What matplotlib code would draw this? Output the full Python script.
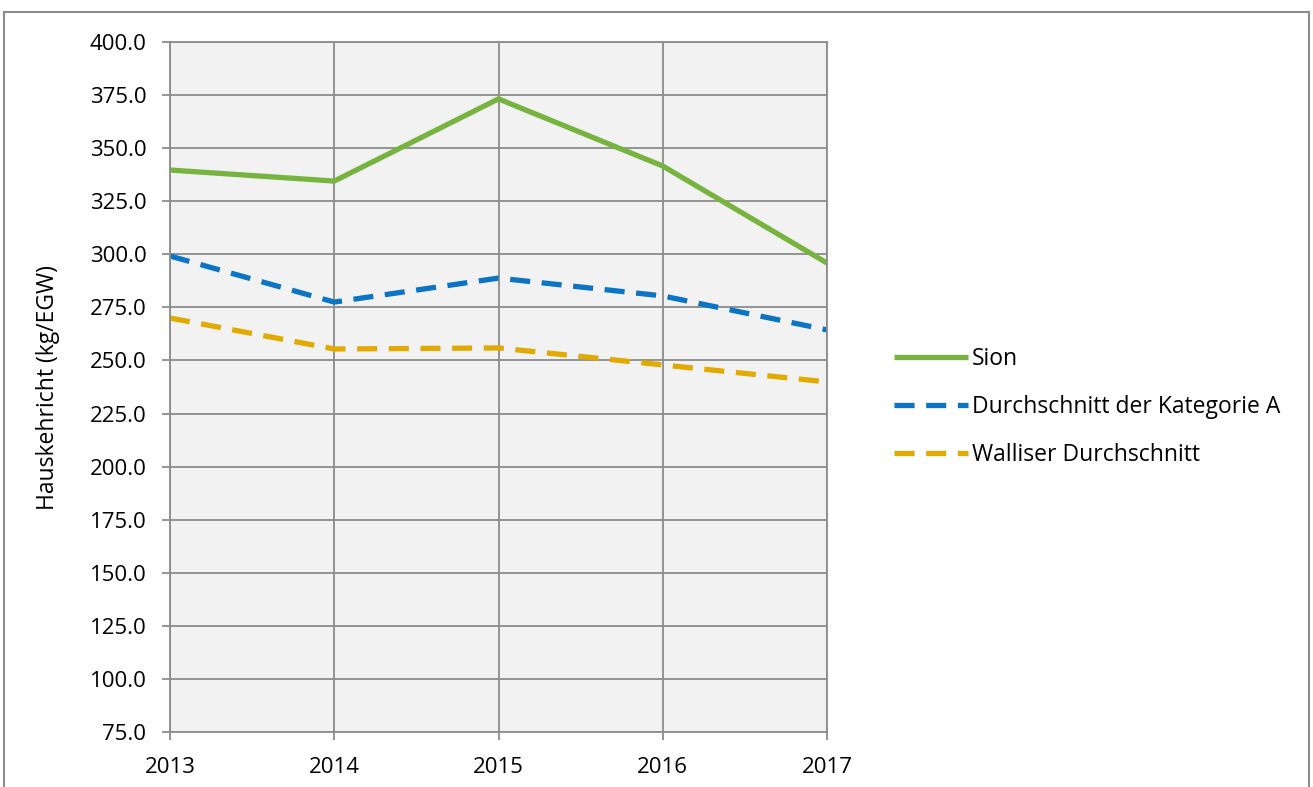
import matplotlib
matplotlib.use("Agg")
import matplotlib.pyplot as plt
from matplotlib.patches import Rectangle

years = [2013, 2014, 2015, 2016, 2017]
sion = [339.7, 334.5, 373.2, 341.6, 295.9]
kategorie_a = [299.2, 277.5, 288.8, 280.4, 264.4]
wallis = [270.0, 255.4, 255.9, 247.9, 239.9]
y_ticks = [75, 100, 125, 150, 175, 200, 225, 250, 275, 300, 325, 350, 375, 400]
labels = ["Sion", "Durchschnitt der Kategorie A", "Walliser Durchschnitt"]

plt.rcParams['font.family'] = ['Open Sans', 'DejaVu Sans']

fig = plt.figure(figsize=(13.13, 7.87), dpi=100)
ax = fig.add_axes([170/1313, 1-732/787, (827-170)/1313, (732-42)/787])
ax.set_facecolor('#F2F2F2')

grid_c = '#8C8C8C'
ax.plot(years, sion, color='#77B43F', lw=3.8, solid_capstyle='butt', label=labels[0])
ax.plot(years, kategorie_a, color='#0C74C4', lw=3.8, dashes=(3.8, 2.2), label=labels[1])
ax.plot(years, wallis, color='#E2AA00', lw=3.8, dashes=(3.8, 2.2), label=labels[2])

ax.set_xlim(years[0], years[-1])
ax.set_ylim(75, 400)
ax.set_xticks(years)
ax.set_xticklabels([str(y) for y in years])
ax.set_yticks(y_ticks)
ax.set_yticklabels([f"{v:.1f}" for v in y_ticks])
ax.grid(True, color=grid_c, lw=1.3)
ax.set_axisbelow(True)
for s in ax.spines.values():
    s.set_color(grid_c)
    s.set_linewidth(1.3)
ax.tick_params(axis='both', which='major', length=6, width=1.3, color=grid_c,
               labelsize=16, direction='out')
ax.tick_params(axis='x', pad=12)
ax.tick_params(axis='y', pad=11)
ax.set_ylabel("Hauskehricht (kg/EGW)", fontsize=16.5, labelpad=21)

leg = ax.legend(loc='center left', bbox_to_anchor=(1.071, 0.471), frameon=False,
                fontsize=16.5, handlelength=3.2, handletextpad=0.2, labelspacing=1.03)

fig.patches.append(Rectangle((4/1313, -0.02), 1305/1313, 1-12/787+0.02,
                             transform=fig.transFigure, fill=False,
                             edgecolor='#8C8C8C', lw=1.5))

fig.savefig("out.png", dpi=100)
